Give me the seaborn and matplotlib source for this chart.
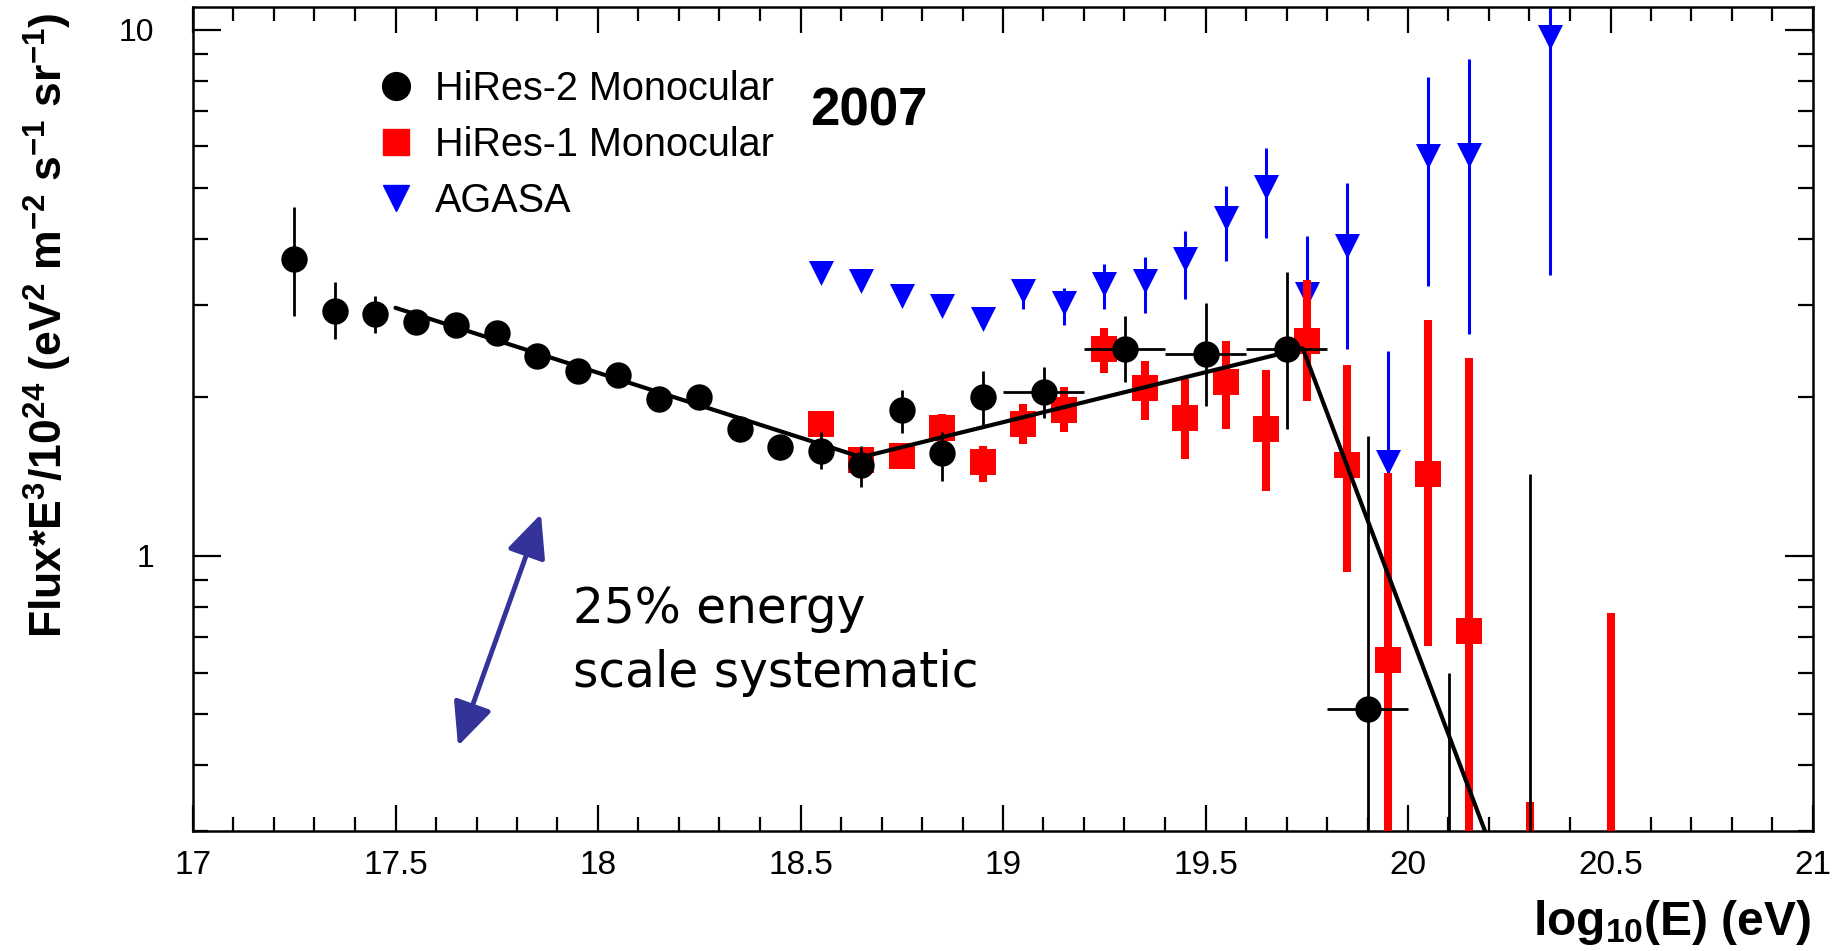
import numpy as np
import pandas as pd
import matplotlib
matplotlib.use("Agg")
import matplotlib.pyplot as plt
import seaborn as sns
from matplotlib.lines import Line2D
from matplotlib.patches import ArrowStyle
from matplotlib.ticker import FixedLocator, FixedFormatter, NullFormatter, MultipleLocator

# ---------------- data ----------------
# HiRes-2 Monocular (black circles)
hires2_logE = [17.25, 17.35, 17.45, 17.55, 17.65, 17.75, 17.85, 17.95, 18.05, 18.15,
               18.25, 18.35, 18.45, 18.55, 18.65, 18.75, 18.85, 18.95, 19.1, 19.3,
               19.5, 19.7, 19.9]
hires2_flux = [3.66, 2.92, 2.88, 2.78, 2.74, 2.65, 2.40, 2.25, 2.21, 1.99,
               2.00, 1.74, 1.61, 1.585, 1.485, 1.89, 1.57, 2.00, 2.05, 2.47,
               2.42, 2.47, 0.512]
hires2_hi = [4.60, 3.32, 3.12, 2.88, 2.83, 2.74, 2.48, 2.33, 2.29, 2.07,
             2.09, 1.83, 1.70, 1.72, 1.62, 2.07, 1.72, 2.25, 2.28, 2.86,
             3.02, 3.46, 1.69]
hires2_lo = [2.85, 2.58, 2.65, 2.68, 2.65, 2.56, 2.32, 2.17, 2.13, 1.91,
             1.91, 1.65, 1.52, 1.46, 1.35, 1.71, 1.39, 1.77, 1.83, 2.14,
             1.93, 1.74, 0.20]
hires2_xerr = [0, 0, 0, 0, 0, 0, 0, 0, 0, 0,
               0, 0, 0, 0, 0, 0, 0, 0, 0.1, 0.1,
               0.1, 0.1, 0.1]
# HiRes-2 bins whose central value is below the plotted range (only upper bar visible)
hires2_limit_logE = [20.1, 20.3]
hires2_limit_top = [0.60, 1.43]

# HiRes-1 Monocular (red squares)
hires1_logE = [18.55, 18.65, 18.75, 18.85, 18.95, 19.05, 19.15, 19.25, 19.35, 19.45,
               19.55, 19.65, 19.75, 19.85, 19.95, 20.05, 20.15]
hires1_flux = [1.78, 1.52, 1.55, 1.75, 1.51, 1.78, 1.89, 2.47, 2.08, 1.83,
               2.14, 1.74, 2.56, 1.49, 0.634, 1.43, 0.72]
hires1_hi = [1.84, 1.58, 1.60, 1.86, 1.62, 1.94, 2.09, 2.71, 2.35, 2.17,
             2.56, 2.26, 3.34, 2.30, 1.44, 2.81, 2.38]
hires1_lo = [1.72, 1.46, 1.50, 1.67, 1.38, 1.63, 1.72, 2.23, 1.81, 1.53,
             1.74, 1.33, 1.97, 0.93, 0.20, 0.673, 0.20]
hires1_limit_logE = [20.3, 20.5]
hires1_limit_top = [0.34, 0.778]

# AGASA (blue triangles)
agasa_logE = [18.55, 18.65, 18.75, 18.85, 18.95, 19.05, 19.15, 19.25, 19.35, 19.45,
              19.55, 19.65, 19.75, 19.85, 19.95, 20.05, 20.15, 20.35]
agasa_flux = [3.44, 3.33, 3.12, 2.98, 2.82, 3.18, 3.02, 3.29, 3.33, 3.66,
              4.39, 5.03, 3.15, 3.88, 1.51, 5.74, 5.78, 9.68]
agasa_hi = [3.44, 3.33, 3.12, 2.98, 2.82, 3.35, 3.23, 3.58, 3.70, 4.14,
            5.05, 5.95, 4.05, 5.11, 2.45, 8.13, 8.81, 13.0]
agasa_lo = [3.44, 3.33, 3.12, 2.98, 2.82, 2.94, 2.75, 2.94, 2.90, 3.08,
            3.63, 4.01, 2.50, 2.47, 0.95, 3.25, 2.64, 3.42]

# broken power-law fit (vertices)
fit_logE = [17.5, 18.65, 19.74, 20.19]
fit_flux = [2.96, 1.54, 2.48, 0.30]

x_ticks = [17, 17.5, 18, 18.5, 19, 19.5, 20, 20.5, 21]
x_ticklabels = ["17", "17.5", "18", "18.5", "19", "19.5", "20", "20.5", "21"]
y_ticks = [1, 10]
y_ticklabels = ["1", "10"]

legend_labels = ["HiRes-2 Monocular", "HiRes-1 Monocular", "AGASA"]

# ---------------- style ----------------
sns.set_theme(style="ticks")
plt.rcParams["font.family"] = ["Liberation Sans", "DejaVu Sans"]
plt.rcParams["text.color"] = "black"
plt.rcParams["axes.labelcolor"] = "black"
plt.rcParams["xtick.color"] = "black"
plt.rcParams["ytick.color"] = "black"
plt.rcParams["axes.edgecolor"] = "black"
plt.rcParams["mathtext.fontset"] = "custom"
plt.rcParams["mathtext.rm"] = "Liberation Sans:bold"
plt.rcParams["mathtext.bf"] = "Liberation Sans:bold"
plt.rcParams["mathtext.it"] = "Liberation Sans:bold"
plt.rcParams["mathtext.sf"] = "Liberation Sans:bold"
plt.rcParams["mathtext.default"] = "bf"

W, H = 1841, 951
fig = plt.figure(figsize=(W / 100, H / 100), dpi=100)
fig.patch.set_facecolor("white")
ax_l, ax_r, ax_t, ax_b = 193, 1813, 7, 831
ax = fig.add_axes([ax_l / W, 1 - ax_b / H, (ax_r - ax_l) / W, (ax_b - ax_t) / H])
ax.set_facecolor("white")
ax.set_yscale("log")
ax.set_xlim(17, 21)
ax.set_ylim(0.3, 11.04)
ymin = ax.get_ylim()[0]

df2 = pd.DataFrame({"logE": hires2_logE, "flux": hires2_flux, "hi": hires2_hi,
                    "lo": hires2_lo, "xerr": hires2_xerr})
df1 = pd.DataFrame({"logE": hires1_logE, "flux": hires1_flux, "hi": hires1_hi, "lo": hires1_lo})
dfa = pd.DataFrame({"logE": agasa_logE, "flux": agasa_flux, "hi": agasa_hi, "lo": agasa_lo})
dfit = pd.DataFrame({"logE": fit_logE, "flux": fit_flux})

# AGASA
ax.errorbar(dfa["logE"], dfa["flux"], yerr=[dfa["flux"] - dfa["lo"], dfa["hi"] - dfa["flux"]],
            fmt="none", ecolor="#0000ff", elinewidth=2.2, capsize=0, zorder=2)
sns.scatterplot(data=dfa, x="logE", y="flux", ax=ax, marker="v", s=18 ** 2,
                color="#0000ff", linewidth=0, zorder=3, legend=False)

# HiRes-1
ax.errorbar(df1["logE"], df1["flux"], yerr=[df1["flux"] - df1["lo"], df1["hi"] - df1["flux"]],
            fmt="none", ecolor="#ff0000", elinewidth=5.8, capsize=0, zorder=4)
ax.vlines(hires1_limit_logE, ymin, hires1_limit_top, color="#ff0000", lw=5.8, zorder=4)
sns.scatterplot(data=df1, x="logE", y="flux", ax=ax, marker="s", s=18.5 ** 2,
                color="#ff0000", linewidth=0, zorder=5, legend=False)

# HiRes-2
ax.errorbar(df2["logE"], df2["flux"], xerr=df2["xerr"],
            yerr=[df2["flux"] - df2["lo"], df2["hi"] - df2["flux"]],
            fmt="none", ecolor="black", elinewidth=2.0, capsize=0, zorder=6)
ax.vlines(hires2_limit_logE, ymin, hires2_limit_top, color="black", lw=2.0, zorder=6)
sns.scatterplot(data=df2, x="logE", y="flux", ax=ax, marker="o", s=19 ** 2,
                color="black", linewidth=0, zorder=7, legend=False)

# fit
sns.lineplot(data=dfit, x="logE", y="flux", ax=ax, color="black", lw=3.0,
             sort=False, zorder=8, legend=False)

# ---------------- axes ----------------
ax.set_xlabel("")
ax.set_ylabel("")
ax.xaxis.set_major_locator(FixedLocator(x_ticks))
ax.xaxis.set_major_formatter(FixedFormatter(x_ticklabels))
ax.xaxis.set_minor_locator(MultipleLocator(0.1))
ax.yaxis.set_major_locator(FixedLocator(y_ticks))
ax.yaxis.set_major_formatter(FixedFormatter(y_ticklabels))
ax.yaxis.set_minor_locator(FixedLocator([0.3, 0.4, 0.5, 0.6, 0.7, 0.8, 0.9,
                                         2, 3, 4, 5, 6, 7, 8, 9]))
ax.yaxis.set_minor_formatter(NullFormatter())

for s in ax.spines.values():
    s.set_linewidth(1.8)
    s.set_color("black")
    s.set_visible(True)

ax.tick_params(axis="both", which="both", direction="in", top=True, right=True,
               colors="black", width=1.6, labelcolor="black")
ax.tick_params(axis="x", which="major", length=19, labelsize=24, pad=14)
ax.tick_params(axis="x", which="minor", length=10)
ax.tick_params(axis="y", which="major", length=20, labelsize=23, pad=28)
ax.tick_params(axis="y", which="minor", length=11)

# axis titles
fig.text(48 / W, 1 - 325 / H,
         r"Flux*E$^{3}$/10$^{24}$ (eV$^{2}$ m$^{-2}$ s$^{-1}$ sr$^{-1}$)",
         rotation=90, ha="center", va="center", fontsize=32, fontweight="bold",
         color="black")
fig.text(1811 / W, 1 - 935 / H, r"log$_{10}$(E) (eV)", ha="right", va="baseline",
         fontsize=34.5, fontweight="bold", color="black")

# legend
handles = [
    Line2D([], [], marker="o", color="black", linestyle="none", markersize=20),
    Line2D([], [], marker="s", color="#ff0000", linestyle="none", markersize=19),
    Line2D([], [], marker="v", color="#0000ff", linestyle="none", markersize=19),
]
leg = ax.legend(handles, legend_labels, loc="upper left",
                bbox_to_anchor=(376 / W, 1 - 70 / H), bbox_transform=fig.transFigure,
                frameon=False, fontsize=28.5, handlelength=1.0, handletextpad=0.5,
                labelspacing=0.45, borderpad=0, borderaxespad=0, labelcolor="black")

fig.text(869 / W, 1 - 111 / H, "2007", ha="center", va="center", fontsize=38,
         fontweight="bold", color="black")

# energy scale systematic annotation
ax.annotate("", xy=(541, H - 514), xytext=(458, H - 746),
            xycoords="figure pixels", textcoords="figure pixels",
            arrowprops=dict(arrowstyle=ArrowStyle("<|-|>", head_length=1.2, head_width=0.55),
                            mutation_scale=22, color="#333399", lw=3.5,
                            shrinkA=0, shrinkB=0))
fig.text(573 / W, 1 - 623 / H, "25% energy", ha="left", va="baseline",
         fontsize=35, family="DejaVu Sans", color="black")
fig.text(573 / W, 1 - 687 / H, "scale systematic", ha="left", va="baseline",
         fontsize=35, family="DejaVu Sans", color="black")

fig.savefig("out.png", dpi=100, facecolor="white")
